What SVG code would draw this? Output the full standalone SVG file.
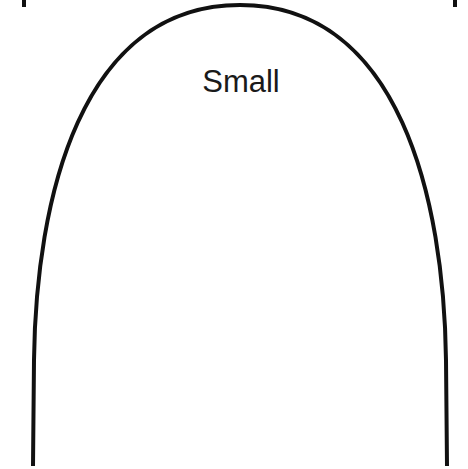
<svg xmlns="http://www.w3.org/2000/svg" width="468" height="469" viewBox="0 0 468 469">
<style>
.wire{fill:none;stroke:#111;stroke-width:4;stroke-linecap:butt}
.lbl{font-family:"Liberation Sans",Arial,sans-serif;font-size:31px;fill:#1a1a1a;text-anchor:middle}
.mark{fill:#111}
</style>
<rect width="468" height="469" fill="#fff"/>
<g id="marks">
<rect class="mark" x="22" y="0" width="4" height="7"/>
<rect class="mark" x="453" y="0" width="4" height="7"/>
</g>
<g id="arch">
<path class="wire" d="M33,466 L34,360 C36,200 80,5 240,5 C400,5 444,200 446,360 L447,466"/>
</g>
<g id="label">
<text class="lbl" x="241" y="92">Small</text>
</g>
</svg>
